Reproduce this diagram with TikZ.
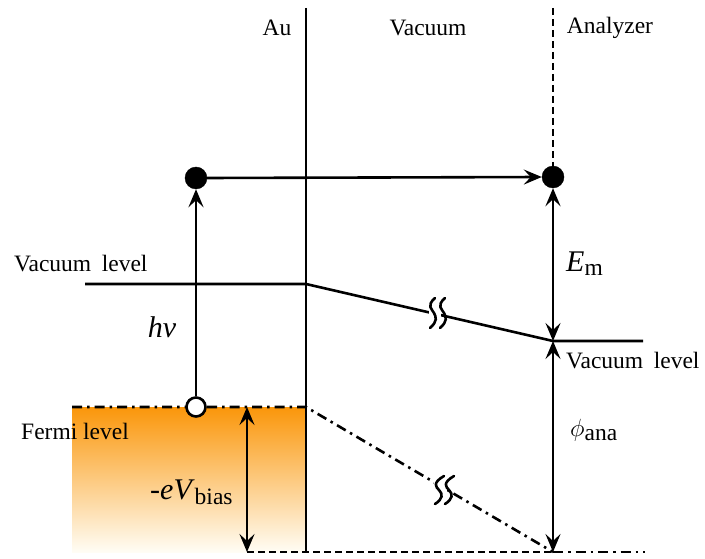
\documentclass[tikz,border=0pt]{standalone}
\usepackage{fontspec}
\setmainfont{Liberation Serif}
\usetikzlibrary{arrows.meta}
\begin{document}
\begin{tikzpicture}[x=1pt,y=-1pt,
  lbl/.style={inner sep=0pt,font=\fontsize{23.5}{26}\selectfont},
  sym/.style={inner sep=0pt,font=\fontsize{30}{32}\selectfont},
  ln/.style={line width=2.6pt},
  tip/.tip={Stealth[length=18pt,width=15pt,inset=7pt]},
  arr/.style={ln,-tip},
  darr/.style={ln,tip-tip},
  dashdot/.style={ln,dash pattern=on 10pt off 5pt on 2.5pt off 5pt},
  dsh/.style={ln,dash pattern=on 7pt off 4pt},
  fdot/.style={circle,fill=black,draw=black,minimum size=22pt,inner sep=0pt},
  odot/.style={circle,fill=white,draw=black,line width=2.6pt,minimum size=19pt,inner sep=0pt},
  brk/.style={line width=2.6pt,line cap=round}
]
\useasboundingbox (0,0) rectangle (705,559);
% gradient block
\shade[top color={rgb,255:red,250;green,150;blue,10},
       middle color={rgb,255:red,252;green,218;blue,130},
       bottom color={rgb,255:red,255;green,253;blue,245}]
  (72,407) rectangle (306,552);
% coordinates
\coordinate (autop) at (306,8);
\coordinate (aubot) at (306,553);
\coordinate (antop) at (553,8);
\coordinate (vl1) at (85,284);
\coordinate (vl2) at (306,284);
\coordinate (vr) at (553,341);
\coordinate (vr2) at (643,341);
\coordinate (f1) at (72,407);
\coordinate (f2) at (306,407);
\coordinate (b0) at (247,552);
\coordinate (b1) at (553,552);
\coordinate (b2) at (645,552);
\coordinate (bt) at (247,407);
% lines
\draw[ln] (autop) -- (aubot);
\draw[ln] (vl1) -- (vl2) -- (vr) -- (vr2);
\draw[dashdot] (f1) -- (f2) -- (b1);
\draw[dsh] (b0) -- (b1);
\draw[dashdot] (b1) -- (b2);
% dots
\node[fdot] (d1) at (196,178) {};
\node[fdot] (d2) at (553,177) {};
\node[odot] (o1) at (196,407) {};
\draw[dsh] (antop) -- (d2.north);
% arrows
\draw[arr] (o1.north) -- (d1.south);
\draw[arr] (d1.east) -- (d2.west);
\draw[darr] (d2.south) -- (vr);
\draw[darr] (vr) -- (b1);
\draw[darr] (bt) -- (b0);
% breaks
\begin{scope}[shift={(432,313)}]
  \fill[white] (-3,-10) -- (9,-10) -- (9,10) -- (-3,10) -- cycle;
  \draw[brk] (3,-15) .. controls (-6,-7) and (0,-4) .. (2,0) .. controls (4,4) and (6,8) .. (-2,15);
  \draw[brk] (13,-15) .. controls (4,-7) and (10,-4) .. (12,0) .. controls (14,4) and (16,8) .. (8,15);
\end{scope}
\begin{scope}[shift={(438,490)}]
  \fill[white] (-4,-10) -- (9,-10) -- (9,10) -- (-4,10) -- cycle;
  \draw[brk] (6,-14) .. controls (-6,-7) and (-2,-3) .. (1,0) .. controls (5,4) and (5,9) .. (-3,14);
  \draw[brk] (16,-14) .. controls (4,-7) and (8,-3) .. (11,0) .. controls (15,4) and (15,9) .. (7,14);
\end{scope}
% labels
\node[lbl] (au) at (277,28) {Au};
\node[lbl] (vac) at (428,28) {Vacuum};
\node[lbl] (ana) at (610,28) {Analyzer};
\node[lbl,anchor=west] (vll) at (14,264) {Vacuum\hspace{0.45em}level};
\node[lbl,anchor=west] (vlr) at (566,361) {Vacuum\hspace{0.45em}level};
\node[lbl,anchor=west] (fl) at (21,431) {Fermi level};
\node[sym] (hv) at (162,327) {\textit{hv}};
\node[sym,anchor=west] (em) at (566,264) {\textit{E}\raisebox{-0.3ex}{\fontsize{23.5}{26}\selectfont m}};
\node[sym,anchor=west] (ebias) at (150,492) {-\textit{eV}\raisebox{-0.35ex}{\fontsize{23.5}{26}\selectfont bias}};
\node[sym,anchor=west] (phi) at (570,430) {$\phi$\raisebox{-0.35ex}{\fontsize{23.5}{26}\selectfont ana}};
\end{tikzpicture}
\end{document}
